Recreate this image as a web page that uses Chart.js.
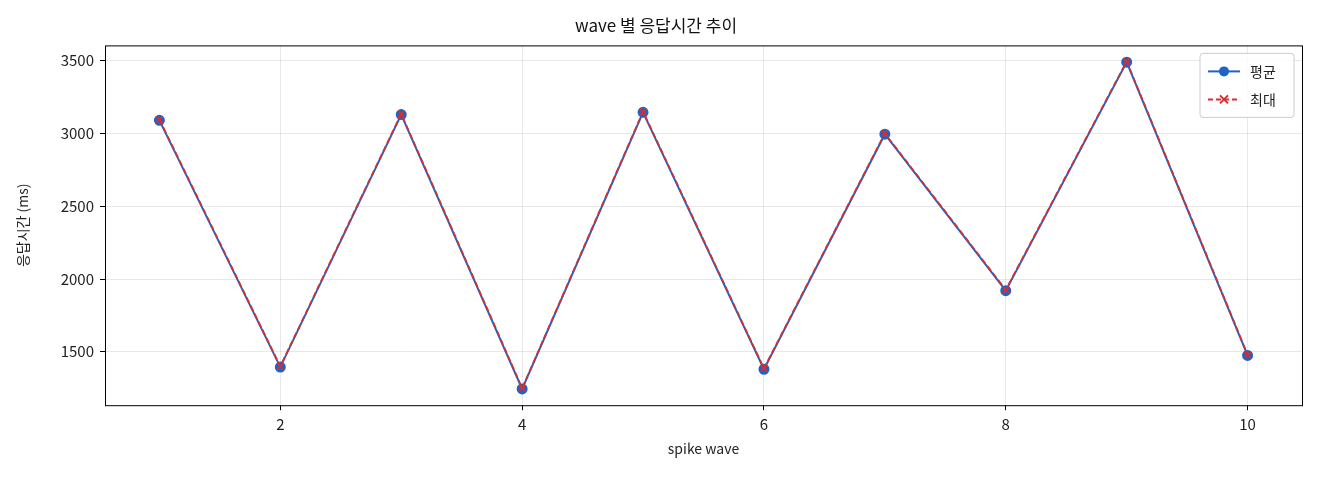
<!DOCTYPE html>
<html><head><meta charset="utf-8">
<script src="https://cdn.jsdelivr.net/npm/chart.js@4"></script>
<style>html,body{margin:0;background:#fff}#wrap{width:1320px;height:480px}</style>
</head><body><div id="wrap"><canvas id="c"></canvas></div>
<script>
const waves = [1, 2, 3, 4, 5, 6, 7, 8, 9, 10];
const avgMs = [3090, 1395, 3130, 1245, 3145, 1380, 2995, 1920, 3490, 1475];
const maxMs = [3095, 1400, 3135, 1250, 3150, 1385, 3000, 1925, 3495, 1480];
const xTicks = [2, 4, 6, 8, 10];
const yTicks = [1500, 2000, 2500, 3000, 3500];

const FONT = "'Noto Sans CJK KR', 'DejaVu Sans', sans-serif";
const BLUE = '#1f63c6', RED = '#d62f2f';

const frame = {
  id: 'frame',
  afterDatasetsDraw(chart) {
    const { ctx, chartArea: a } = chart;
    ctx.save();
    ctx.strokeStyle = '#000'; ctx.lineWidth = 1;
    ctx.strokeRect(a.left + 0.5, a.top + 0.5, a.width, a.height);
    // legend box
    const w = 94, h = 64, x = a.right - w - 8, y = a.top + 8;
    ctx.fillStyle = 'rgba(255,255,255,0.85)'; ctx.strokeStyle = '#ccc';
    ctx.beginPath(); ctx.roundRect(x, y, w, h, 3); ctx.fill(); ctx.stroke();
    ctx.font = '14px ' + FONT; ctx.textBaseline = 'middle'; ctx.fillStyle = '#222';
    const items = [[BLUE, [], 'circle', '평균'], [RED, [5, 3], 'cross', '최대']];
    items.forEach((it, i) => {
      const ly = y + 18 + i * 28, lx = x + 8;
      ctx.strokeStyle = it[0]; ctx.lineWidth = 2; ctx.setLineDash(it[1]);
      ctx.beginPath(); ctx.moveTo(lx, ly); ctx.lineTo(lx + 32, ly); ctx.stroke();
      ctx.setLineDash([]);
      if (it[2] === 'circle') {
        ctx.fillStyle = it[0]; ctx.beginPath(); ctx.arc(lx + 16, ly, 5, 0, Math.PI * 2); ctx.fill();
      } else {
        ctx.beginPath(); ctx.moveTo(lx + 12, ly - 4); ctx.lineTo(lx + 20, ly + 4);
        ctx.moveTo(lx + 20, ly - 4); ctx.lineTo(lx + 12, ly + 4); ctx.stroke();
      }
      ctx.fillStyle = '#222'; ctx.fillText(it[3], lx + 42, ly);
    });
    ctx.restore();
  }
};

new Chart(document.getElementById('c'), {
  type: 'line',
  data: {
    datasets: [
      { label: '평균', order: 2, data: waves.map((w, i) => ({ x: w, y: avgMs[i] })), borderColor: BLUE, backgroundColor: BLUE,
        borderWidth: 2, pointRadius: 4.5, pointHoverRadius: 4.5, pointStyle: 'circle', tension: 0 },
      { label: '최대', order: 1, data: waves.map((w, i) => ({ x: w, y: maxMs[i] })), borderColor: RED, backgroundColor: RED,
        borderWidth: 1.8, borderDash: [6, 3], pointRadius: 4.5, pointBorderWidth: 1.8, pointStyle: 'crossRot', tension: 0 }
    ]
  },
  options: {
    responsive: true, maintainAspectRatio: false, animation: false,
    layout: { padding: { top: 7, right: 18, left: 10, bottom: 19 } },
    plugins: {
      legend: { display: false }, tooltip: { enabled: false },
      title: { display: true, text: 'wave 별 응답시간 추이', color: '#111', font: { family: FONT, size: 17, weight: 'normal' }, padding: { top: 8, bottom: 10 } }
    },
    scales: {
      x: {
        type: 'linear', min: 0.55, max: 10.45,
        afterBuildTicks: s => { s.ticks = xTicks.map(v => ({ value: v })); },
        ticks: { color: '#222', font: { family: FONT, size: 15 }, padding: 5, callback: v => String(v) },
        grid: { color: 'rgba(0,0,0,0.09)', tickColor: '#000', tickLength: 5 },
        border: { display: false },
        title: { display: true, text: 'spike wave', color: '#222', font: { family: FONT, size: 14 }, padding: { top: 2 } }
      },
      y: {
        min: 1133, max: 3605,
        afterBuildTicks: s => { s.ticks = yTicks.map(v => ({ value: v })); },
        afterFit: s => { s.width = 95; },
        ticks: { color: '#222', font: { family: FONT, size: 15 }, padding: 6, callback: v => String(v) },
        grid: { color: 'rgba(0,0,0,0.09)', tickColor: '#000', tickLength: 5 },
        border: { display: false },
        title: { display: true, text: '응답시간 (ms)', color: '#222', font: { family: FONT, size: 14 } }
      }
    }
  },
  plugins: [frame]
});
</script></body></html>
